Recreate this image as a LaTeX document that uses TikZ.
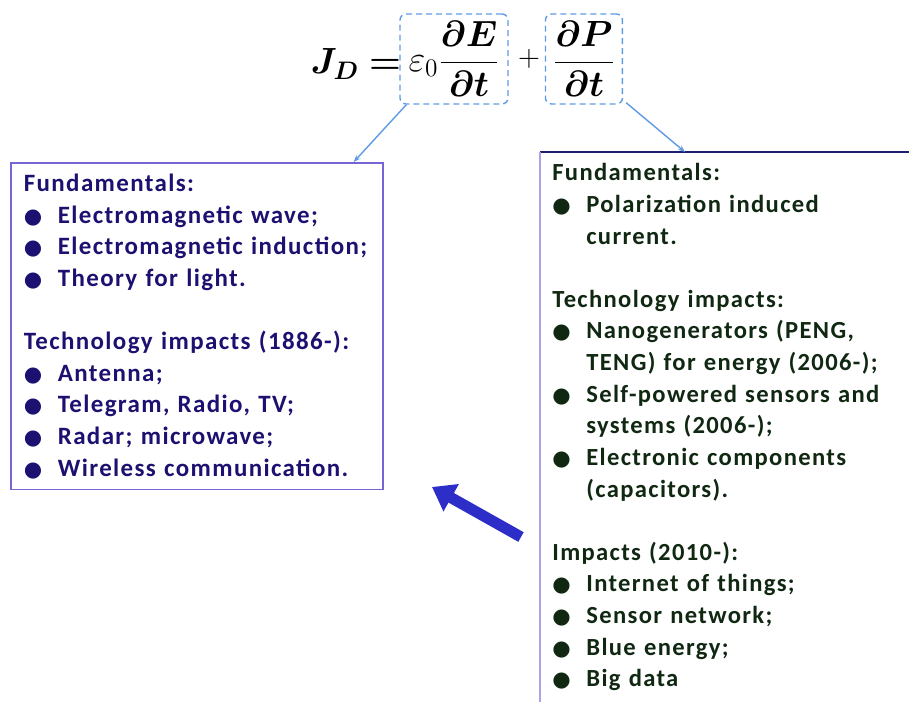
\documentclass[tikz,border=0pt]{standalone}
\usepackage{amsmath,bm}
\usepackage{fontspec}
\setmainfont{Carlito}[LetterSpace=5.5]
\newfontfamily\symfont{DejaVu Sans}
\usetikzlibrary{arrows.meta}
\usetikzlibrary{positioning}
\definecolor{indigotext}{RGB}{28,16,112}
\definecolor{greentext}{RGB}{16,40,18}
\definecolor{boxlilac}{RGB}{120,100,210}
\definecolor{navyline}{RGB}{30,30,110}
\definecolor{skyline}{RGB}{95,155,228}
\definecolor{arrowblue}{RGB}{45,45,200}
\newcommand{\itm}[1]{\makebox[0.68cm][l]{{\symfont\fontsize{12}{12}\selectfont ●}}#1}
\newcommand{\cnt}{\hspace*{0.68cm}}
\tikzset{
  textbox/.style={anchor=north west, align=left, inner xsep=#1, inner ysep=0.22cm, font=\fontsize{14.2}{18}\selectfont\bfseries},
  textbox/.default=0.26cm,
  dashbox/.style={draw=skyline, dashed, dash pattern=on 0.12cm off 0.08cm, rounded corners=0.12cm, thick, minimum height=1.8cm, minimum width=#1, inner xsep=2pt},
  link/.style={-{Stealth[length=4pt,width=3pt]}, skyline, thick},
  bigarrow/.style={-{Triangle[length=0.44cm,width=0.6cm]}, line width=0.22cm, arrowblue},
}
\begin{document}
\begin{tikzpicture}[x=0.02cm, y=-0.02cm]
  \useasboundingbox (0,0) rectangle (909,702);
  % equation
  \node[dashbox=2.16cm] (efield) at (454,59) {\fontsize{20}{24}\selectfont$\varepsilon_0\dfrac{\bm{\partial E}}{\bm{\partial t}}$};
  \node[anchor=east, inner sep=0pt, xshift=0.04cm, yshift=-0.1cm] (jd) at (efield.west) {\fontsize{20}{24}\selectfont$\bm{J_D=}$};
  \node[inner sep=0pt, right=0.18cm of efield] (plus) {\fontsize{18}{20}\selectfont$+$};
  \node[dashbox=1.54cm, right=0.09cm of plus] (polar) {\fontsize{20}{24}\selectfont$\dfrac{\bm{\partial P}}{\bm{\partial t}}$};

  % left box
  \node[textbox, draw=boxlilac, line width=1pt, text width=6.92cm, text=indigotext] (fund) at (10,162) {%
    Fundamentals:\\
    \itm{Electromagnetic wave;}\\
    \itm{Electromagnetic induction;}\\
    \itm{Theory for light.}\\[18pt]
    Technology impacts (1886-):\\
    \itm{Antenna;}\\
    \itm{Telegram, Radio, TV;}\\
    \itm{Radar; microwave;}\\
    \itm{Wireless communication.}};

  % right box
  \node[textbox=0.24cm, text width=7.2cm, text=greentext, font=\fontsize{14}{18}\selectfont\bfseries, minimum height=11cm] (rbox) at (540,152) {%
    Fundamentals:\\
    \itm{Polarization induced}\\
    \cnt current.\\[18pt]
    Technology impacts:\\
    \itm{Nanogenerators (PENG,}\\
    \cnt TENG) for energy (2006-);\\
    \itm{Self-powered sensors and}\\
    \cnt systems (2006-);\\
    \itm{Electronic components}\\
    \cnt (capacitors).\\[18pt]
    Impacts (2010-):\\
    \itm{Internet of things;}\\
    \itm{Sensor network;}\\
    \itm{Blue energy;}\\
    \itm{Big data}};
  \draw[navyline, line width=1.2pt] (rbox.north west) -- (rbox.north east);
  \draw[boxlilac!60, line width=1.2pt] (rbox.north west) -- (rbox.south west);

  % connectors
  \draw[link] ([xshift=0.14cm]efield.south west) -- ([xshift=-0.6cm]fund.north east);
  \draw[link] ([xshift=0.06cm,yshift=0.04cm]polar.south east) -- ([xshift=2.9cm]rbox.north west);

  \coordinate (tail) at (521,537);
  \coordinate (tip) at (432,487);
  \draw[bigarrow] (tail) -- (tip);
\end{tikzpicture}
\end{document}
